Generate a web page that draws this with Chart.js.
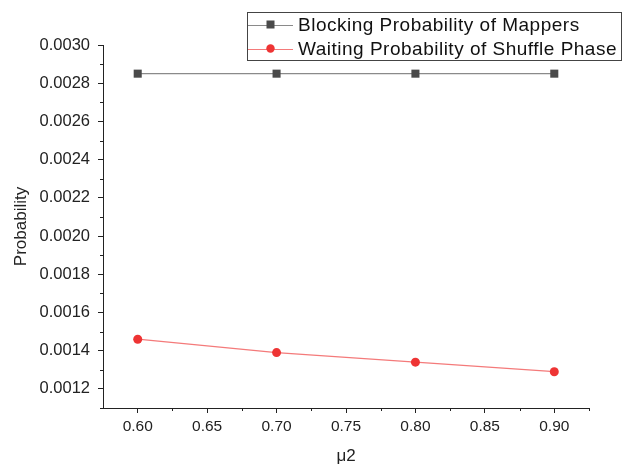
<!DOCTYPE html>
<html>
<head>
<meta charset="utf-8">
<script src="https://cdn.jsdelivr.net/npm/chart.js@4"></script>
<style>
  html, body { margin: 0; padding: 0; background: #fff; }
  canvas { display: block; }
</style>
</head>
<body>
<canvas id="c" width="631" height="467"></canvas>
<script>
// μ2 values on the horizontal axis
const mu2 = [0.60, 0.70, 0.80, 0.90];
// Series values
const blockingMappers = [0.00285, 0.00285, 0.00285, 0.00285];
const waitingShuffle = [0.00146, 0.00139, 0.00134, 0.00129];
// Axis ticks
const xMajorTicks = [0.60, 0.65, 0.70, 0.75, 0.80, 0.85, 0.90];
const xMinorTicks = [0.625, 0.675, 0.725, 0.775, 0.825, 0.875, 0.925];
const yMajorTicks = [0.0012, 0.0014, 0.0016, 0.0018, 0.0020, 0.0022, 0.0024, 0.0026, 0.0028, 0.0030];
const yMinorTicks = [0.0011, 0.0013, 0.0015, 0.0017, 0.0019, 0.0021, 0.0023, 0.0025, 0.0027, 0.0029];
const seriesNames = ['Blocking Probability of Mappers', 'Waiting Probability of Shuffle Phase'];

const FONT = '"Liberation Sans", Arial, sans-serif';
const INK = '#222';

// Short minor tick marks on both axes
const minorTicks = {
  id: 'minorTicks',
  afterDraw(chart) {
    const { ctx, scales: { x, y } } = chart;
    ctx.save();
    ctx.strokeStyle = INK;
    ctx.lineWidth = 1;
    ctx.beginPath();
    xMinorTicks.forEach(v => {
      const px = Math.round(x.getPixelForValue(v)) + 0.5;
      ctx.moveTo(px, y.bottom);
      ctx.lineTo(px, y.bottom + 3);
    });
    yMinorTicks.forEach(v => {
      const py = Math.round(y.getPixelForValue(v)) + 0.5;
      ctx.moveTo(x.left, py);
      ctx.lineTo(x.left - 3, py);
    });
    ctx.stroke();
    ctx.restore();
  }
};

// Boxed legend in the upper right corner
const boxedLegend = {
  id: 'boxedLegend',
  afterDraw(chart) {
    const ctx = chart.ctx;
    const box = { left: 247, top: 12, right: 621, bottom: 60 };
    ctx.save();
    ctx.strokeStyle = '#444';
    ctx.lineWidth = 1;
    ctx.strokeRect(box.left + 0.5, box.top + 0.5, box.right - box.left, box.bottom - box.top);
    const rowH = (box.bottom - box.top) / 2;
    chart.data.datasets.forEach((ds, i) => {
      const cy = box.top + rowH * (i + 0.5) + 0.5;
      const x0 = box.left + 1, x1 = box.left + 46;
      ctx.strokeStyle = ds.borderColor;
      ctx.lineWidth = 1;
      ctx.beginPath();
      ctx.moveTo(x0, Math.round(cy) + 0.5);
      ctx.lineTo(x1, Math.round(cy) + 0.5);
      ctx.stroke();
      const mx = (x0 + x1) / 2;
      ctx.fillStyle = ds.pointBackgroundColor;
      if (ds.pointStyle === 'rect') {
        ctx.fillRect(mx - 4, cy - 4, 8, 8);
      } else {
        ctx.beginPath();
        ctx.arc(mx, cy, 4.2, 0, Math.PI * 2);
        ctx.fill();
      }
      ctx.fillStyle = '#111';
      ctx.font = '19px ' + FONT;
      ctx.letterSpacing = '0.5px';
      ctx.textBaseline = 'middle';
      ctx.textAlign = 'left';
      ctx.fillText(ds.label, x1 + 5, cy + 1);
    });
    ctx.restore();
  }
};

new Chart(document.getElementById('c'), {
  type: 'line',
  data: {
    datasets: [
      {
        label: seriesNames[0],
        data: mu2.map((v, i) => ({ x: v, y: blockingMappers[i] })),
        borderColor: '#8a8a8a',
        borderWidth: 1.2,
        pointStyle: 'rect',
        pointRadius: 5.7,
        pointBackgroundColor: '#4a4a4a',
        pointBorderWidth: 0,
        tension: 0
      },
      {
        label: seriesNames[1],
        data: mu2.map((v, i) => ({ x: v, y: waitingShuffle[i] })),
        borderColor: '#f47a7a',
        borderWidth: 1.2,
        pointStyle: 'circle',
        pointRadius: 4.5,
        pointBackgroundColor: '#ee3434',
        pointBorderWidth: 0,
        tension: 0
      }
    ]
  },
  options: {
    responsive: false,
    animation: false,
    devicePixelRatio: 1,
    layout: { padding: { top: 45, right: 42, left: 0, bottom: 0 } },
    plugins: { legend: { display: false }, tooltip: { enabled: false } },
    scales: {
      x: {
        type: 'linear',
        min: 0.575,
        max: 0.925,
        afterBuildTicks: axis => { axis.ticks = xMajorTicks.map(v => ({ value: v })); },
        afterFit: axis => { axis.height = 59; },
        ticks: {
          callback: v => v.toFixed(2),
          color: INK,
          font: { family: FONT, size: 15.5 },
          padding: 4,
          maxRotation: 0,
          autoSkip: false
        },
        grid: { drawOnChartArea: false, drawTicks: true, tickLength: 5, color: INK, lineWidth: 1 },
        border: { display: true, color: INK, width: 1 },
        title: { display: true, text: 'μ2', color: INK, font: { family: FONT, size: 17 }, padding: { top: 6, bottom: 0 } }
      },
      y: {
        type: 'linear',
        min: 0.0011,
        max: 0.0030,
        afterBuildTicks: axis => { axis.ticks = yMajorTicks.map(v => ({ value: v })); },
        afterFit: axis => { axis.width = 103; },
        ticks: {
          callback: v => v.toFixed(4),
          color: INK,
          font: { family: FONT, size: 16.5 },
          padding: 8,
          autoSkip: false
        },
        grid: { drawOnChartArea: false, drawTicks: true, tickLength: 5, color: INK, lineWidth: 1 },
        border: { display: true, color: INK, width: 1 },
        title: { display: true, text: 'Probability', color: INK, font: { family: FONT, size: 17 }, padding: { top: 11, bottom: 0 } }
      }
    }
  },
  plugins: [minorTicks, boxedLegend]
});
</script>
</body>
</html>
